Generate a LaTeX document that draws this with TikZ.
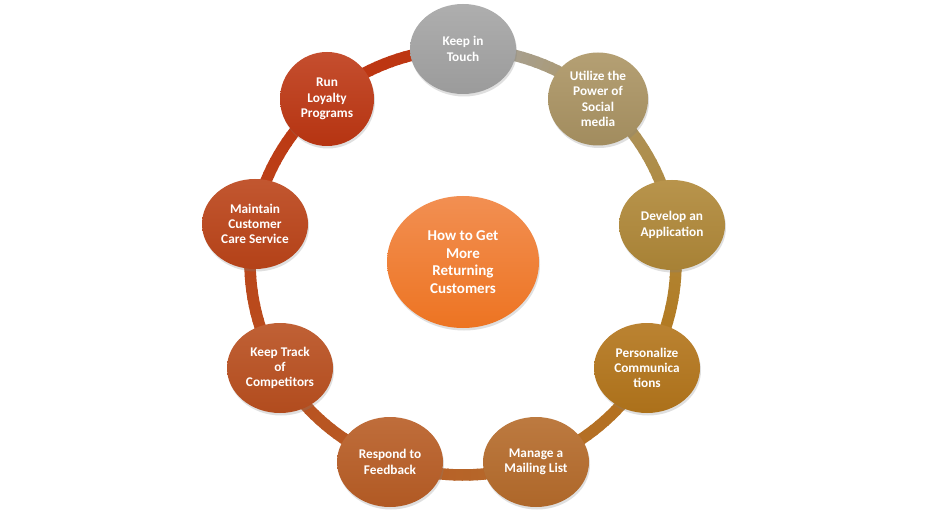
\documentclass[tikz,border=0pt]{standalone}
\usepackage{fontspec}
\setmainfont{Carlito}
\usetikzlibrary{shapes.geometric,shadows,calc}
\definecolor{ca}{HTML}{A5A5A5}
\definecolor{cb}{HTML}{AC9564}
\definecolor{cc}{HTML}{B08838}
\definecolor{cd}{HTML}{B3751B}
\definecolor{ce}{HTML}{B56B2B}
\definecolor{cf}{HTML}{B85D25}
\definecolor{cg}{HTML}{B94F1F}
\definecolor{ch}{HTML}{BB4419}
\definecolor{ci}{HTML}{BD3612}
\definecolor{hubtop}{HTML}{F28F52}
\definecolor{hubbot}{HTML}{ED7422}
\tikzset{
  bub/.style={ellipse, minimum width=106pt, minimum height=90pt, inner sep=0pt,
    text=white, align=center, font=\bfseries\fontsize{13.3}{15.3}\selectfont,
    drop shadow={opacity=0.25, shadow xshift=1pt, shadow yshift=-2.5pt}},
  hub/.style={bub, minimum width=152pt, minimum height=132pt,
    font=\bfseries\fontsize{15}{17.5}\selectfont},
  ringseg/.style={line width=11.5pt, line cap=butt}
}
\begin{document}
\begin{tikzpicture}[x=1pt,y=1pt]
\fill[white] (0,0) rectangle (926,512);
\useasboundingbox (0,0) rectangle (926,512);
\coordinate (C) at (463,250);
\foreach \i/\j [count=\k from 0] in {ca/cb,cb/cc,cc/cd,cd/ce,ce/cf,cf/cg,cg/ch,ch/ci,ci/ci} {
  \foreach \s in {0,...,19} {
    \pgfmathsetmacro\a{90-40*\k-2*\s}
    \pgfmathtruncatemacro\p{100-100*\s/19}
    \colorlet{ringc}{\i!\p!\j}
    \draw[ringseg, ringc] ($(C)+(\a:213pt)$) arc[start angle=\a, end angle=\a-2.4, radius=213pt];
  }
}
\node[bub, top color=ca!90!white, bottom color=ca!94!black] (n1) at (463,463) {Keep in\\Touch};
\node[bub, minimum width=100pt, minimum height=93pt, top color=cb!90!white, bottom color=cb!94!black] (n2) at (598,413) {Utilize the\\Power of\\Social\\media};
\node[bub, top color=cc!90!white, bottom color=cc!95!black] (n3) at (672,287) {Develop an\\Application};
\node[bub, top color=cd!90!white, bottom color=cd!96!black] (n4) at (647,144) {Personalize\\Communica\\tions};
\node[bub, top color=ce!90!white, bottom color=ce!96!black] (n5) at (536,50) {Manage a\\Mailing List};
\node[bub, top color=cf!90!white, bottom color=cf!96!black] (n6) at (390,50) {Respond to\\Feedback};
\node[bub, top color=cg!90!white, bottom color=cg!96!black] (n7) at (280,144) {Keep Track\\of\\Competitors};
\node[bub, top color=ch!90!white, bottom color=ch!96!black] (n8) at (255,288) {Maintain\\Customer\\Care Service};
\node[bub, minimum width=94pt, minimum height=94pt, top color=ci!88!white, bottom color=ci!96!black] (n9) at (327,413) {Run\\Loyalty\\Programs};
\node[hub, top color=hubtop, bottom color=hubbot] (hub) at (463,250) {How to Get\\More\\Returning\\Customers};
\end{tikzpicture}
\end{document}
